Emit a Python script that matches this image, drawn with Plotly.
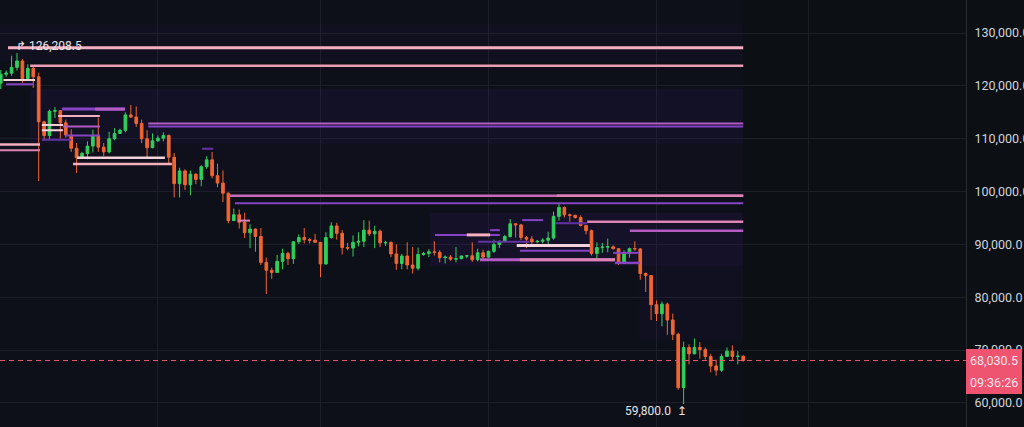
import pandas as pd
import numpy as np
import plotly.graph_objects as go

# ---------------- data ----------------
dates = pd.date_range("2025-10-03", "2026-02-17", freq="D").strftime("%Y-%m-%d").tolist()

close = [122200, 122400, 123500, 124700, 121400, 123300, 121700, 113200, 110600, 115200,
         115300, 113000, 110700, 108200, 106400, 107200, 108600, 110500, 108400, 107500,
         110000, 111000, 111600, 114500, 114100, 112900, 110000, 108300, 109600, 110100,
         110600, 106500, 101500, 103900, 101300, 103300, 102300, 104700, 106000, 103000,
         101600, 99700, 94500, 95600, 94200, 92200, 92900, 91500, 86600, 85100,
         84700, 86800, 88300, 87300, 90500, 91300, 90900, 90800, 90400, 86300,
         91300, 93500, 92100, 89400, 89300, 90400, 90600, 92700, 92000, 92500,
         90300, 90350, 88200, 86400, 87800, 86100, 85500, 88100, 88300, 88600,
         88500, 87500, 87600, 87200, 87300, 87800, 87850, 87100, 88400, 87600,
         88700, 90000, 90600, 91500, 93900, 93700, 91300, 91000, 90500, 90600,
         90800, 91200, 95300, 97000, 95600, 95500, 95100, 93600, 92600, 88300,
         89400, 89500, 89550, 89200, 86600, 88300, 89200, 89150, 84500, 84100,
         78600, 76900, 78700, 75700, 73000, 62900, 70500, 69300, 70500, 70100,
         68800, 67000, 66200, 68800, 69800, 68800, 68850, 68030.5]

open_ = [120500] + close[:-1]

high = [123000, 122900, 125700, 126208.5, 125100, 124100, 123700, 122500, 113400, 115500,
        116000, 115400, 113600, 111800, 109200, 107500, 109500, 111700, 114000, 109200,
        111300, 112000, 111900, 115000, 116400, 116100, 113600, 111600, 111000, 110600,
        111200, 110800, 107300, 104500, 104200, 104000, 103400, 105000, 106700, 107500,
        105300, 104000, 99800, 96800, 96600, 96000, 93800, 93000, 93100, 87500,
        85600, 88000, 89200, 88600, 90600, 91900, 93100, 91200, 92000, 90400,
        92300, 94200, 94100, 92700, 90300, 91700, 92300, 94600, 94500, 93500,
        92800, 90700, 90600, 90000, 88200, 90400, 89500, 89400, 88600, 89100,
        90600, 88900, 87900, 88000, 89500, 87900, 88000, 90400, 89200, 89000,
        88800, 90900, 90700, 91800, 94800, 94000, 93800, 91600, 91600, 90800,
        91200, 92400, 96200, 97900, 97200, 95800, 95600, 95500, 93600, 92800,
        90400, 90300, 91100, 89800, 89200, 88900, 89400, 90600, 89300, 84700,
        84200, 79400, 79200, 79000, 76900, 73300, 71600, 71100, 72200, 71500,
        70500, 69300, 68200, 69300, 70500, 70900, 69800, 69000]

low = [119400, 121700, 121900, 122900, 120600, 121000, 119600, 102000, 109600, 109700,
       113900, 110000, 110200, 107500, 103500, 106300, 106100, 107400, 107500, 106700,
       107200, 109700, 110900, 111200, 113900, 112200, 109200, 106300, 108200, 109400,
       109500, 105300, 98900, 98900, 100300, 99300, 101400, 101000, 104300, 102500,
       100800, 98000, 94000, 94500, 93000, 91200, 89300, 88600, 86100, 80600,
       83500, 84600, 85300, 86100, 86300, 90100, 90200, 90200, 90300, 83800,
       86200, 91100, 90900, 88100, 88900, 87700, 89600, 89500, 91600, 89300,
       89500, 89700, 87600, 85200, 85300, 85300, 84500, 85100, 87900, 87600,
       87900, 86600, 86400, 86900, 86600, 87200, 87400, 86700, 86800, 87100,
       87500, 88400, 89300, 90500, 91300, 91300, 90800, 89300, 89600, 90200,
       90200, 90000, 90900, 94500, 95100, 94300, 94900, 93400, 91900, 87900,
       87300, 88400, 88500, 89000, 86100, 86400, 87500, 88800, 83300, 81000,
       75700, 75500, 74500, 72900, 71900, 62500, 59800, 67300, 69200, 68400,
       68200, 65800, 65200, 65900, 68700, 68100, 67300, 67800]

last_price = 68030.5
last_label = "68,030.5"
countdown = "09:36:26"
ath_date, ath_label = "2025-10-06", "126,208.5"
low_date, low_price, low_label = "2026-02-06", 59800, "59,800.0"

END = "2026-02-17 00:00"
# liquidation levels: price, start, end, tone, width
lvl_price = [127200, 123800, 112900, 112300, 108900, 107800, 121100, 120300, 115600, 115600,
             114300, 112600, 111600, 112300, 110600, 109800, 106400, 105200, 99200, 99200,
             97800, 94500, 108100, 91800, 91800, 92700, 90500, 89800, 88800, 87100,
             87100, 86500, 94300, 92600, 94000, 94600, 88400]
lvl_start = ["2025-10-04 08:00", "2025-10-08 10:00", "2025-10-30 05:00", "2025-10-30 05:00",
             "2025-10-02 20:00", "2025-10-02 20:00", "2025-10-03 12:00", "2025-10-04 00:00",
             "2025-10-14 07:00", "2025-10-20 10:00", "2025-10-13 14:00", "2025-10-10 14:00",
             "2025-10-10 14:00", "2025-10-14 12:00", "2025-10-14 20:00", "2025-10-10 14:00",
             "2025-10-17 02:00", "2025-10-16 08:00", "2025-11-14 07:00", "2026-01-13 15:00",
             "2025-11-15 05:00", "2025-11-15 19:00", "2025-11-09 03:00", "2025-12-22 03:00",
             "2025-12-28 00:00", "2026-01-01 07:00", "2025-12-30 01:00", "2026-01-06 05:00",
             "2026-01-06 19:00", "2025-12-30 10:00", "2026-01-06 19:00", "2026-01-24 08:00",
             "2026-01-19 05:00", "2026-01-27 02:00", "2026-01-13 07:00", "2026-01-07 05:00",
             "2026-01-24 00:00"]
lvl_end = [END, END, END, END,
           "2025-10-10 06:00", "2025-10-10 06:00", "2025-10-09 08:00", "2025-10-09 00:00",
           "2025-10-25 22:00", "2025-10-25 22:00", "2025-10-21 07:00", "2025-10-14 12:00",
           "2025-10-14 12:00", "2025-10-21 07:00", "2025-10-21 07:00", "2025-10-16 00:00",
           "2025-11-02 07:00", "2025-11-03 14:00", END, END,
           END, "2025-11-18 00:00", "2025-11-11 05:00", "2026-01-03 02:00",
           "2026-01-01 07:00", "2026-01-03 02:00", "2026-01-08 14:00", "2026-01-19 17:00",
           "2026-01-19 17:00", "2026-01-24 08:00", "2026-01-24 08:00", "2026-01-28 22:00",
           END, END, "2026-01-19 05:00", "2026-01-11 01:00",
           "2026-01-28 19:00"]
lvl_tone = ["hot", "hotpink", "magenta", "violet", "hot", "pink", "pale", "violet", "violet", "magenta",
            "hot", "pale", "pale", "magenta", "violet", "deep", "pale", "hot", "pinkish", "pink",
            "violet", "pink", "deep", "violet", "hot", "violet", "deep", "pale", "violet", "magenta",
            "pink", "violet", "pink", "magenta", "deep", "violet", "violet"]
lvl_width = [3, 2.5, 2, 2, 2.5, 2, 2, 2, 3, 3,
             2, 2, 2, 2, 2, 2, 2.5, 2.5, 2.5, 2.5,
             2, 2, 2, 2, 3, 2, 2, 3, 2, 3,
             3, 2.5, 2.5, 2.5, 2, 2, 2]

# liquidity glow bands: price low, price high, start, end, intensity
glow_lo = [55000, 124500, 109000, 100000, 86000, 72000]
glow_hi = [136500, 131500, 119500, 109000, 96000, 86000]
glow_start = ["2025-10-02 20:00", "2025-10-02 20:00", "2025-10-08 10:00", "2025-10-02 20:00",
              "2025-12-21 05:00", "2026-01-28 22:00"]
glow_end = [END, END, END, END, END, END]
glow_int = [0.10, 0.18, 0.34, 0.16, 0.38, 0.22]

# ---------------- style ----------------
BG = "#0c1015"
GRID = "#1b2026"
UP = "#2fd05c"
DOWN = "#f2652f"
TONES = {"hot": "#f5b0c0", "hotpink": "#eb9db6", "pale": "#f3d2da", "pink": "#dc84b4",
         "pinkish": "#c86ab8", "magenta": "#b45cc4", "violet": "#8644c4", "deep": "#6032a4"}

fig = go.Figure()

# glow heatmap built from bands
xe = sorted(set(pd.to_datetime(glow_start).tolist() + pd.to_datetime(glow_end).tolist()))
ye = sorted(set(glow_lo + glow_hi))
gs, ge = pd.to_datetime(glow_start), pd.to_datetime(glow_end)
z = []
for j in range(len(ye) - 1):
    yc = (ye[j] + ye[j + 1]) / 2
    row = []
    for i in range(len(xe) - 1):
        xc = xe[i] + (xe[i + 1] - xe[i]) / 2
        v = None
        for k in range(len(glow_int)):
            if glow_lo[k] <= yc <= glow_hi[k] and gs[k] <= xc <= ge[k]:
                v = glow_int[k] if v is None else max(v, glow_int[k])
        row.append(v)
    z.append(row)
fig.add_trace(go.Heatmap(x=xe, y=ye, z=z, zmin=0, zmax=1, showscale=False, hoverinfo="skip",
                         colorscale=[[0, "rgba(62,22,125,0)"], [1, "rgba(62,22,125,0.5)"]]))

for p, s, e, t, w in zip(lvl_price, lvl_start, lvl_end, lvl_tone, lvl_width):
    fig.add_trace(go.Scatter(x=[s, e], y=[p, p], mode="lines", hoverinfo="skip",
                             line=dict(color=TONES[t], width=w), showlegend=False))

fig.add_trace(go.Candlestick(
    x=dates, open=open_, high=high, low=low, close=close, whiskerwidth=0,
    increasing=dict(line=dict(color=UP, width=1), fillcolor=UP),
    decreasing=dict(line=dict(color=DOWN, width=1), fillcolor=DOWN),
    showlegend=False))

fig.add_shape(type="line", xref="paper", x0=0, x1=1, y0=last_price, y1=last_price,
              line=dict(color="#e8566f", width=1, dash="5px,4px"))

fig.add_annotation(x=ath_date, y=high[dates.index(ath_date)], text="↱ " + ath_label,
                   xanchor="left", yanchor="middle", xshift=-3, yshift=7, showarrow=False,
                   font=dict(color="#e6e6e6", size=12, family="Roboto"))
fig.add_annotation(x=low_date, y=low_price, text=low_label + "  ↥",
                   xanchor="right", yanchor="middle", xshift=5, yshift=-7, showarrow=False,
                   font=dict(color="#e6e6e6", size=12, family="Roboto"))
# price tag (two stacked boxes)
fig.add_annotation(xref="paper", x=1, y=last_price, text=last_label,
                   xanchor="left", yanchor="middle", showarrow=False, align="left",
                   bgcolor="#ee5470", borderpad=3, borderwidth=1, bordercolor="#ee5470",
                   font=dict(color="#fde4ea", size=12.5, family="Roboto"))
fig.add_annotation(xref="paper", x=1, y=last_price, text=countdown,
                   xanchor="left", yanchor="top", yshift=-10, showarrow=False, align="left",
                   bgcolor="#ee5470", borderpad=3, borderwidth=1, bordercolor="#ee5470",
                   font=dict(color="#fde4ea", size=12.5, family="Roboto"))

fig.update_layout(
    width=1024, height=427, margin=dict(l=0, r=58, t=0, b=0, autoexpand=False),
    paper_bgcolor=BG, plot_bgcolor=BG, showlegend=False,
    xaxis=dict(type="date", range=["2025-10-02 20:43", "2026-03-30 02:30"],
               rangeslider=dict(visible=False), showticklabels=False,
               tick0="2025-11-01", dtick="M1", showgrid=True, gridcolor=GRID, gridwidth=1,
               zeroline=False, showline=False),
    yaxis=dict(side="right", range=[55455, 136244], tickvals=list(range(60000, 130001, 10000)),
               tickformat=",.1f", showgrid=True, gridcolor=GRID, zeroline=False,
               showline=True, linecolor="#262b31", ticks="outside", ticklen=5, tickcolor=BG,
               tickfont=dict(color="#d0d4da", size=12.5, family="Roboto")),
)

fig.write_html("out.html", config={"displayModeBar": False},
               post_script="document.body.style.margin='0';document.body.style.background='" + BG + "';")
